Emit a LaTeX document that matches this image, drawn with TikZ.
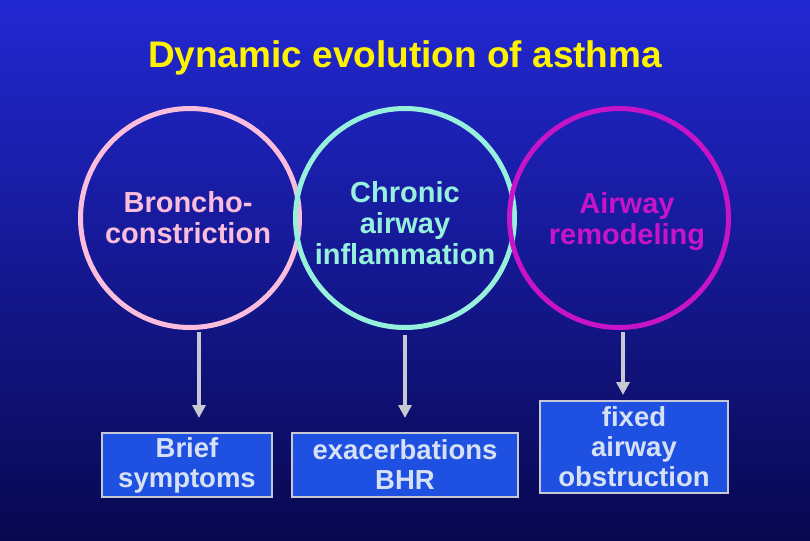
\documentclass[tikz,border=0pt]{standalone}
\usepackage{fontspec}
\setmainfont{Liberation Sans}
\usetikzlibrary{arrows.meta}
\definecolor{bgtop}{RGB}{34,40,210}
\definecolor{bgbot}{RGB}{8,8,80}
\definecolor{pinkc}{RGB}{250,190,220}
\definecolor{cyanc}{RGB}{150,240,220}
\definecolor{magc}{RGB}{200,20,200}
\definecolor{boxf}{RGB}{30,80,225}
\definecolor{boxt}{RGB}{215,225,245}
\definecolor{arr}{RGB}{200,200,210}
\begin{document}
\begin{tikzpicture}[x=1pt,y=-1pt,
  ring/.style={draw,line width=5pt,circle,minimum size=219pt,inner sep=0pt},
  lab/.style={font=\bfseries\fontsize{29}{31}\selectfont,align=center},
  box/.style={draw=arr,line width=1.5pt,fill=boxf,text=boxt,font=\bfseries\fontsize{27.5}{30}\selectfont,align=center,inner sep=0pt},
  conn/.style={draw=arr,line width=4pt,-{Triangle[length=13pt,width=13pt]}}]
\shade[top color=bgtop,bottom color=bgbot] (0,0) rectangle (810,540);
\useasboundingbox (0,0) rectangle (810,540);
\node[font=\bfseries\fontsize{37}{40}\selectfont,text=yellow] (t) at (405,58) {Dynamic evolution of asthma};
\node[ring,draw=pinkc] (c1) at (190,218) {};
\node[ring,draw=cyanc] (c2) at (405,218) {};
\node[ring,draw=magc] (c3) at (619,218) {};
\node[lab,text=pinkc] (l1) at (188,218) {Broncho-\\constriction};
\node[lab,text=cyanc] (l2) at (405,223) {Chronic\\airway\\inflammation};
\node[lab,text=magc] (l3) at (627,222) {Airway\\remodeling};
\node[box,minimum width=170pt,minimum height=64pt] (b1) at (187,465) {Brief\\symptoms};
\node[box,minimum width=226pt,minimum height=64pt] (b2) at (405,465) {exacerbations\\BHR};
\node[box,minimum width=188pt,minimum height=92pt] (b3) at (634,447) {fixed\\airway\\obstruction};
\coordinate (e1) at (199,418); \coordinate (e2) at (405,418); \coordinate (e3) at (623,395);
\draw[conn] (199,332) -- (e1);
\draw[conn] (405,335) -- (e2);
\draw[conn] (623,332) -- (e3);
\end{tikzpicture}
\end{document}
